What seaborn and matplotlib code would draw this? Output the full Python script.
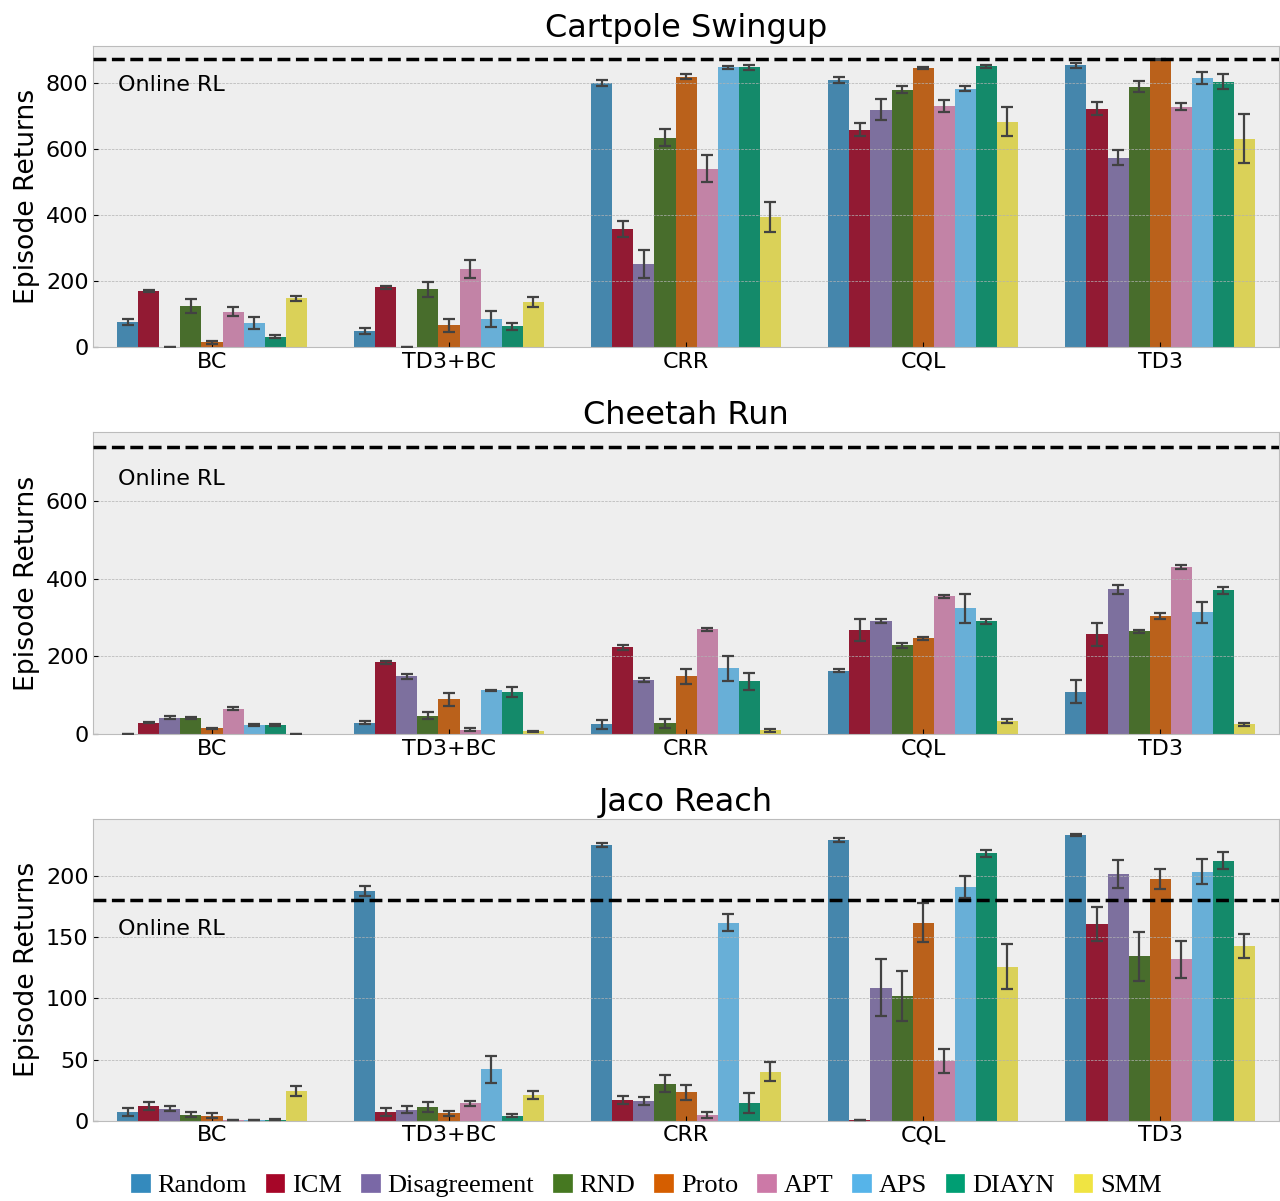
import numpy as np
import pandas as pd
import matplotlib
matplotlib.use('Agg')
import matplotlib.pyplot as plt
import matplotlib.patches as mpatches
import seaborn as sns

algos = ['BC', 'TD3+BC', 'CRR', 'CQL', 'TD3']
methods = ['Random', 'ICM', 'Disagreement', 'RND', 'Proto', 'APT', 'APS', 'DIAYN', 'SMM']
colors = ['#348ABD', '#A60628', '#7A68A6', '#467821', '#D55E00',
          '#CC79A7', '#56B4E9', '#009E73', '#F0E442']

# rows = methods, cols = algos
cartpole_mean = [
    [75, 48, 799, 810, 853],
    [169, 181, 357, 658, 722],
    [0, 0, 251, 719, 573],
    [124, 175, 634, 780, 789],
    [14, 66, 819, 844, 871],
    [107, 236, 540, 731, 728],
    [72, 84, 847, 783, 816],
    [32, 63, 847, 850, 804],
    [148, 136, 394, 683, 631],
]
cartpole_err = [
    [9, 9, 9, 9, 8],
    [3, 5, 24, 20, 20],
    [0, 0, 43, 31, 23],
    [21, 23, 25, 11, 16],
    [4, 19, 7, 3, 2],
    [14, 27, 41, 18, 10],
    [18, 24, 4, 8, 18],
    [6, 10, 7, 4, 23],
    [7, 15, 46, 44, 74],
]
cheetah_mean = [
    [0, 29, 24, 163, 109],
    [29, 184, 223, 267, 256],
    [42, 148, 138, 290, 372],
    [40, 47, 27, 228, 264],
    [14, 89, 148, 246, 303],
    [65, 11, 269, 354, 429],
    [22, 112, 169, 323, 313],
    [22, 108, 135, 290, 370],
    [0, 6, 9, 32, 24],
]
cheetah_err = [
    [0, 5, 12, 4, 29],
    [2, 3, 7, 28, 30],
    [3, 6, 5, 5, 12],
    [3, 9, 12, 6, 4],
    [2, 17, 20, 4, 8],
    [3, 3, 3, 3, 5],
    [2, 2, 32, 37, 27],
    [2, 12, 21, 6, 9],
    [0, 1, 4, 5, 5],
]
jaco_mean = [
    [7, 188, 226, 230, 234],
    [12, 7, 17, 0.3, 161],
    [9.6, 9, 16, 109, 202],
    [4.7, 11, 30, 102, 134.5],
    [3.8, 6, 23, 162, 198],
    [0.3, 14, 4.7, 49, 132],
    [0.3, 42, 162, 191, 204],
    [0.8, 4, 14.5, 219, 213],
    [24, 21, 40, 126, 143],
]
jaco_err = [
    [3, 4, 1.5, 1.5, 1],
    [3, 3, 3.5, 0, 14],
    [2, 3, 3.5, 23, 11.6],
    [2, 4, 7, 20.5, 20],
    [2, 2, 6, 16, 8],
    [0, 2, 2.5, 10, 15],
    [0, 11, 7, 9, 10],
    [0.3, 1.5, 8, 3, 7],
    [4, 3, 8, 18.5, 10],
]

envs = ['Cartpole Swingup', 'Cheetah Run', 'Jaco Reach']
online_rl = [873, 739, 180.5]
means = [cartpole_mean, cheetah_mean, jaco_mean]
errs = [cartpole_err, cheetah_err, jaco_err]
ylims = [913, 777, 247]
label_offsets = [-26, -32, -29]

plt.style.use('bmh')
plt.rcParams['font.size'] = 16
plt.rcParams['font.family'] = ['DejaVu Sans']

fig, axes = plt.subplots(3, 1, figsize=(12.8, 12.01), dpi=100)
plt.subplots_adjust(left=0.073, right=0.999, top=0.962, bottom=0.067, hspace=0.283)

for ax, env, mean, err, online, ytop, off in zip(axes, envs, means, errs, online_rl, ylims, label_offsets):
    rows = []
    for m, vals in zip(methods, mean):
        for a, v in zip(algos, vals):
            rows.append({'algo': a, 'method': m, 'value': v})
    df = pd.DataFrame(rows)
    sns.barplot(data=df, x='algo', y='value', hue='method', order=algos,
                hue_order=methods, palette=colors, errorbar=None, ax=ax, legend=False)
    for cont, e in zip(ax.containers, err):
        xs = [p.get_x() + p.get_width() / 2 for p in cont]
        hs = [p.get_height() for p in cont]
        ax.errorbar(xs, hs, yerr=e, fmt='none', ecolor='#424242',
                    elinewidth=1.6, capsize=4.5, capthick=1.6, zorder=3)
    ax.axhline(online, color='black', linestyle='--', linewidth=2.5, zorder=4)
    ax.annotate('Online RL', xy=(0.021, online), xycoords=ax.get_yaxis_transform(),
                xytext=(0, off), textcoords='offset pixels', va='center', ha='left',
                fontsize=16)
    ax.set_xlim(-0.5, len(algos) - 0.5)
    ax.set_ylim(0, ytop)
    ax.set_title(env)
    ax.set_xlabel('')
    ax.set_ylabel('Episode Returns')
    ax.xaxis.grid(False)

handles = [mpatches.Patch(color=c, label=m) for c, m in zip(colors, methods)]
fig.legend(handles=handles, loc='center', bbox_to_anchor=(0.505, 0.013), ncol=9,
           frameon=False, prop={'family': 'Liberation Serif', 'size': 19},
           handlelength=0.7, handleheight=0.7, handletextpad=0.3, columnspacing=0.72)

plt.savefig('out.png', dpi=100)
